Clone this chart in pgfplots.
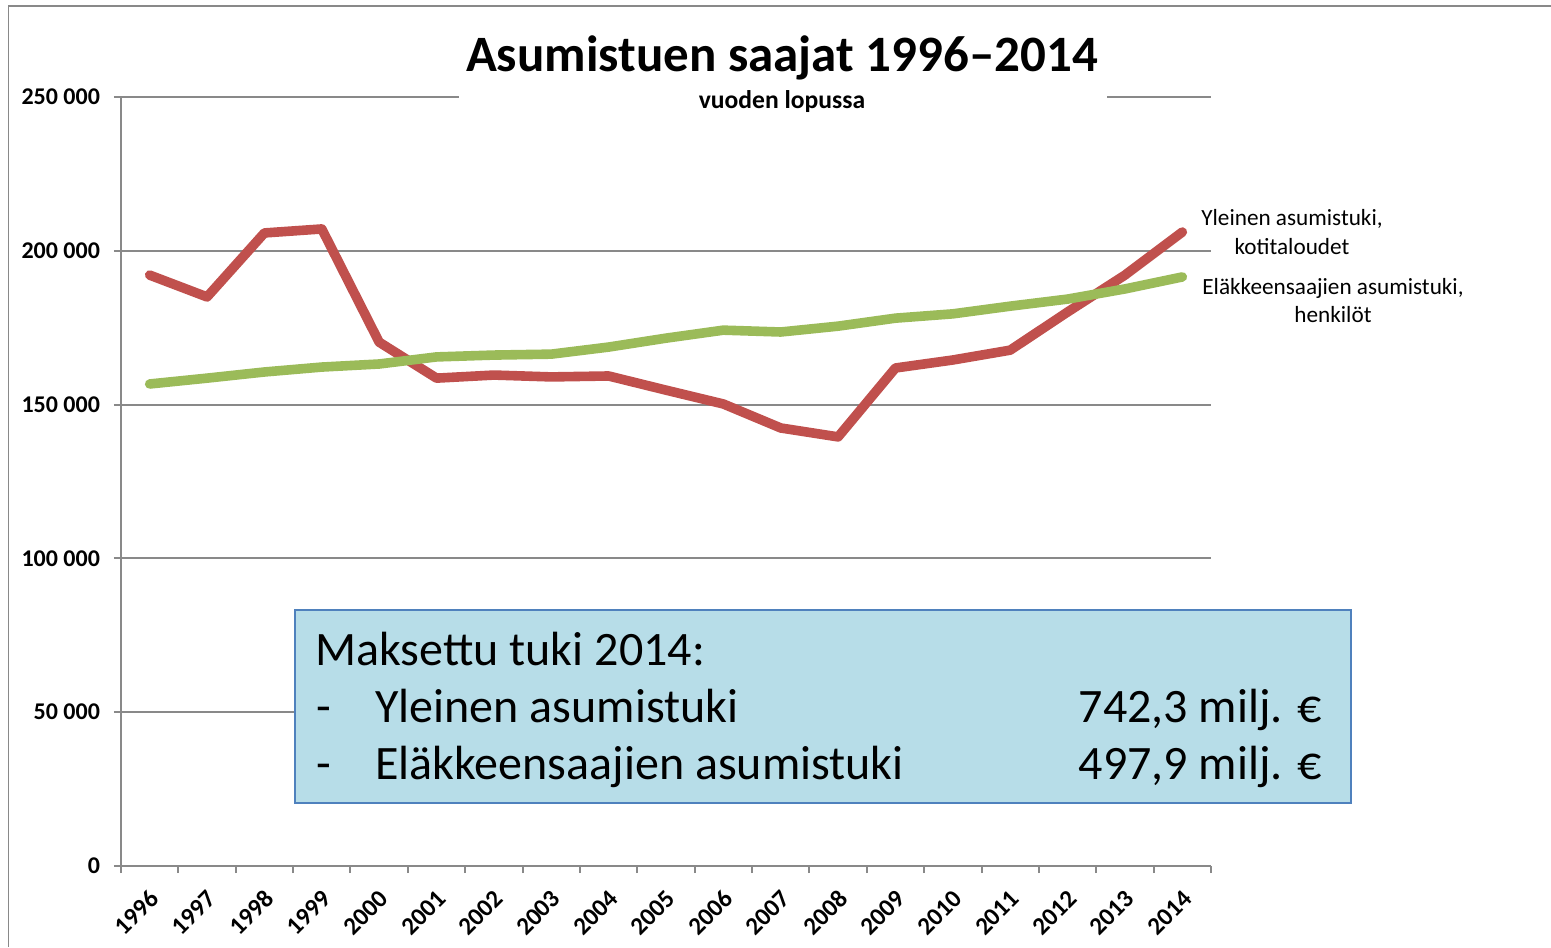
\documentclass[border=0pt]{standalone}
\usepackage{pgfplots}
\pgfplotsset{compat=1.18}
\usepackage{fontspec}
\setmainfont{Carlito}

\definecolor{redline}{HTML}{C0504D}
\definecolor{greenline}{HTML}{9BBB59}
\definecolor{gridgray}{HTML}{898989}
\definecolor{boxfill}{HTML}{B7DDE8}
\definecolor{boxedge}{HTML}{4F81BD}

% Yleinen asumistuki, kotitaloudet
\pgfplotstableread{
x y
0 192100
1 185000
2 205800
3 207100
4 170300
5 158600
6 159600
7 159000
8 159300
9 154700
10 150200
11 142400
12 139500
13 161900
14 164500
15 167700
16 180100
17 192100
18 206100
}\yleinen

% Eläkkeensaajien asumistuki, henkilöt
\pgfplotstableread{
x y
0 156700
1 158600
2 160600
3 162200
4 163200
5 165500
6 166100
7 166400
8 168700
9 171600
10 174200
11 173600
12 175500
13 178100
14 179500
15 182000
16 184300
17 187600
18 191500
}\elake

\begin{document}
\begin{tikzpicture}
\begin{scope}[x=0.5pt,y=0.5pt]
\path[use as bounding box] (0,0) rectangle (1551,947);
\draw[gridgray, line width=0.7pt] (8.5,0) -- (8.5,941) -- (1551,941);
\end{scope}

\begin{axis}[
    at={(60.5pt,40.5pt)}, anchor=south west,
    scale only axis, width=545pt, height=384.5pt,
    xmin=-0.5, xmax=18.5, ymin=0, ymax=250000,
    clip=false,
    separate axis lines,
    axis x line*=bottom, axis y line*=left,
    axis line style={gridgray, line width=1pt, -},
    xtick={-0.5,0.5,...,18.5},
    x tick label as interval,
    xticklabels={1996,1997,1998,1999,2000,2001,2002,2003,2004,2005,2006,2007,2008,2009,2010,2011,2012,2013,2014},
    ytick={0,50000,100000,150000,200000,250000},
    yticklabels={0,50 000,100 000,150 000,200 000,250 000},
    scaled y ticks=false,
    tick align=outside, major tick length=3.5pt,
    tick style={gridgray, line width=1pt},
    ymajorgrids, grid style={gridgray, line width=1pt},
    ticklabel style={font=\bfseries\fontsize{12}{12}\selectfont, text=black},
    x tick label style={font=\bfseries\fontsize{12.5}{12.5}\selectfont, rotate=45, anchor=east, xshift=-2.5pt, yshift=-9.5pt},
    y tick label style={xshift=-3.5pt},
]
\addplot[redline, line width=4.8pt, line join=round, line cap=round] table[x=x,y=y] {\yleinen};
\addplot[greenline, line width=4.8pt, line join=round, line cap=round] table[x=x,y=y] {\elake};
\end{axis}

\begin{scope}[x=0.5pt,y=0.5pt]
% title area
\fill[white] (459,830) rectangle (1107,915);
\node[anchor=base, font=\bfseries\fontsize{25.5}{28}\selectfont] at (782,875) {Asumistuen saajat 1996–2014};
\node[anchor=base, font=\bfseries\fontsize{12.8}{14}\selectfont] at (782,838) {vuoden lopussa};

% series labels
\node[anchor=base, font=\fontsize{11.6}{14}\selectfont] at (1292,721) {Yleinen asumistuki,};
\node[anchor=base, font=\fontsize{11.6}{14}\selectfont] at (1292,692) {kotitaloudet};
\node[anchor=base, font=\fontsize{11.6}{14}\selectfont] at (1333,652) {Eläkkeensaajien asumistuki,};
\node[anchor=base, font=\fontsize{11.6}{14}\selectfont] at (1333,624) {henkilöt};

% info box
\draw[boxedge, fill=boxfill, line width=0.8pt] (295,144) rectangle (1351,337);
\begin{scope}[every node/.style={font=\fontsize{24}{28}\selectfont, inner sep=0pt}]
\node[anchor=base west] at (315,281) {Maksettu tuki 2014:};
\node[anchor=base west] at (316,224) {-};
\node[anchor=base west] at (375,224) {Yleinen asumistuki};
\node[anchor=base east] at (1322,224) {742,3 milj. €};
\node[anchor=base west] at (316,167) {-};
\node[anchor=base west] at (375,167) {Eläkkeensaajien asumistuki};
\node[anchor=base east] at (1322,167) {497,9 milj. €};
\end{scope}
\end{scope}
\end{tikzpicture}
\end{document}
